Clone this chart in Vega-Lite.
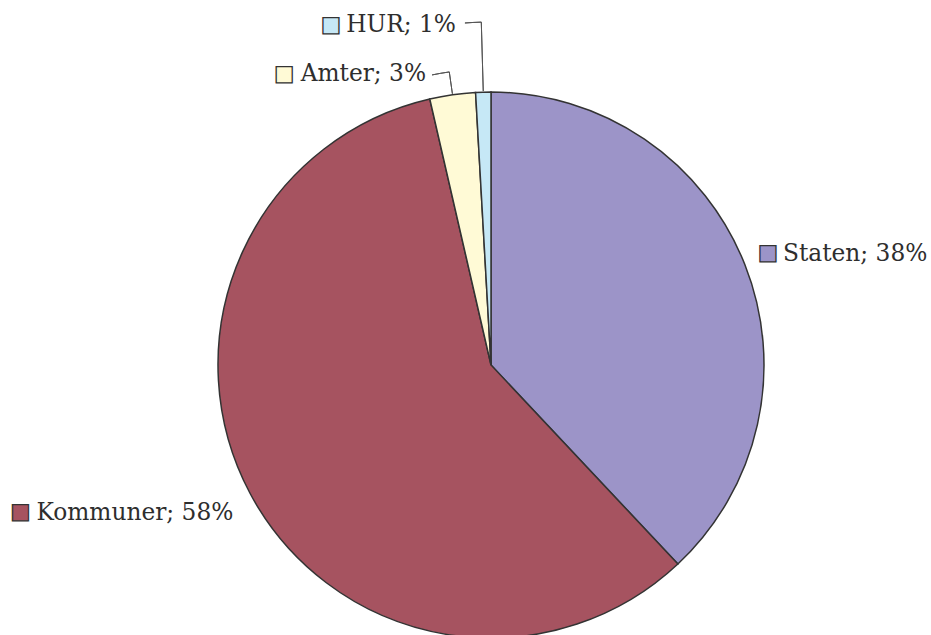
{
  "$schema": "https://vega.github.io/schema/vega-lite/v6.json",
  "width": 546,
  "height": 540,
  "autosize": {"type": "none"},
  "padding": {"left": 218, "top": 95, "right": 167, "bottom": 0},
  "background": "white",
  "config": {"view": {"stroke": null}},
  "data": {
    "values": [
      {"cat": "Staten", "value": 38.0, "i": 1},
      {"cat": "Kommuner", "value": 58.4, "i": 2},
      {"cat": "Amter", "value": 2.7, "i": 3},
      {"cat": "HUR", "value": 0.9, "i": 4}
    ]
  },
  "transform": [
    {"stack": "value", "groupby": [], "sort": [{"field": "i", "order": "ascending"}], "as": ["t0", "t1"]},
    {"calculate": "(datum.t0 + datum.t1) / 2", "as": "mid"},
    {"calculate": "datum.cat + '; ' + format(datum.value, '.0f') + '%'", "as": "label"}
  ],
  "layer": [
    {
      "mark": {"type": "arc", "radius": 273, "stroke": "#333333", "strokeWidth": 1.5},
      "encoding": {
        "theta": {"field": "t0", "type": "quantitative", "scale": {"domain": [0, 100]}},
        "theta2": {"field": "t1"},
        "color": {
          "field": "cat", "type": "nominal",
          "scale": {"domain": ["Staten", "Kommuner", "Amter", "HUR"], "range": ["#9c94c8", "#a65360", "#fffad6", "#c6e8f6"]},
          "legend": null
        }
      }
    },
    {
      "transform": [{"filter": "datum.cat === 'Amter'"}],
      "mark": {"type": "arc", "filled": false, "stroke": "#555555", "strokeWidth": 1, "radius": 296, "radius2": 274},
      "encoding": {
        "theta": {"field": "mid", "type": "quantitative", "scale": {"domain": [0, 100]}},
        "theta2": {"field": "mid"}
      }
    },
    {
      "transform": [{"filter": "datum.cat === 'Amter'"}, {"calculate": "datum.mid - 0.94", "as": "hs"}],
      "mark": {"type": "arc", "filled": false, "stroke": "#555555", "strokeWidth": 1, "radius": 296, "radius2": 296},
      "encoding": {
        "theta": {"field": "hs", "type": "quantitative", "scale": {"domain": [0, 100]}},
        "theta2": {"field": "mid"}
      }
    },
    {
      "transform": [{"filter": "datum.cat === 'HUR'"}],
      "mark": {"type": "arc", "filled": false, "stroke": "#555555", "strokeWidth": 1, "radius": 343, "radius2": 274},
      "encoding": {
        "theta": {"field": "mid", "type": "quantitative", "scale": {"domain": [0, 100]}},
        "theta2": {"field": "mid"}
      }
    },
    {
      "transform": [{"filter": "datum.cat === 'HUR'"}, {"calculate": "datum.mid - 0.76", "as": "hs"}],
      "mark": {"type": "arc", "filled": false, "stroke": "#555555", "strokeWidth": 1, "radius": 343, "radius2": 343},
      "encoding": {
        "theta": {"field": "hs", "type": "quantitative", "scale": {"domain": [0, 100]}},
        "theta2": {"field": "mid"}
      }
    },
    {
      "transform": [{"filter": "datum.cat === 'Staten'"}],
      "mark": {"type": "text", "align": "left", "baseline": "middle", "radius": 314, "dy": 5, "font": "DejaVu Serif", "fontSize": 23.3, "color": "#2e2e2e"},
      "encoding": {
        "theta": {"field": "mid", "type": "quantitative", "scale": {"domain": [0, 100]}},
        "text": {"field": "label"}
      }
    },
    {
      "transform": [{"filter": "datum.cat === 'Kommuner'"}],
      "mark": {"type": "text", "align": "right", "baseline": "middle", "radius": 292, "dy": 11, "font": "DejaVu Serif", "fontSize": 23.3, "color": "#2e2e2e"},
      "encoding": {
        "theta": {"field": "mid", "type": "quantitative", "scale": {"domain": [0, 100]}},
        "text": {"field": "label"}
      }
    },
    {
      "transform": [{"filter": "datum.cat === 'Amter'"}, {"calculate": "datum.mid - 0.94", "as": "hs"}],
      "mark": {"type": "text", "align": "right", "baseline": "middle", "radius": 296, "dx": -6, "dy": -1, "font": "DejaVu Serif", "fontSize": 23.3, "color": "#2e2e2e"},
      "encoding": {
        "theta": {"field": "hs", "type": "quantitative", "scale": {"domain": [0, 100]}},
        "text": {"field": "label"}
      }
    },
    {
      "transform": [{"filter": "datum.cat === 'HUR'"}, {"calculate": "datum.mid - 0.76", "as": "hs"}],
      "mark": {"type": "text", "align": "right", "baseline": "middle", "radius": 343, "dx": -9, "dy": 2, "font": "DejaVu Serif", "fontSize": 23.3, "color": "#2e2e2e"},
      "encoding": {
        "theta": {"field": "hs", "type": "quantitative", "scale": {"domain": [0, 100]}},
        "text": {"field": "label"}
      }
    },
    {
      "transform": [{"filter": "datum.cat === 'Staten'"}],
      "mark": {"type": "text", "align": "center", "baseline": "middle", "radius": 314, "dx": -15, "dy": 4, "font": "DejaVu Sans", "fontSize": 21, "stroke": "#333333", "strokeWidth": 1.3},
      "encoding": {
        "theta": {"field": "mid", "type": "quantitative", "scale": {"domain": [0, 100]}},
        "text": {"value": "■"},
        "color": {"field": "cat", "type": "nominal", "legend": null}
      }
    },
    {
      "transform": [{"filter": "datum.cat === 'Kommuner'"}],
      "mark": {"type": "text", "align": "center", "baseline": "middle", "radius": 292, "dx": -213, "dy": 10, "font": "DejaVu Sans", "fontSize": 21, "stroke": "#333333", "strokeWidth": 1.3},
      "encoding": {
        "theta": {"field": "mid", "type": "quantitative", "scale": {"domain": [0, 100]}},
        "text": {"value": "■"},
        "color": {"field": "cat", "type": "nominal", "legend": null}
      }
    },
    {
      "transform": [{"filter": "datum.cat === 'Amter'"}, {"calculate": "datum.mid - 0.94", "as": "hs"}],
      "mark": {"type": "text", "align": "center", "baseline": "middle", "radius": 296, "dx": -148, "dy": -1, "font": "DejaVu Sans", "fontSize": 21, "stroke": "#333333", "strokeWidth": 1.3},
      "encoding": {
        "theta": {"field": "hs", "type": "quantitative", "scale": {"domain": [0, 100]}},
        "text": {"value": "■"},
        "color": {"field": "cat", "type": "nominal", "legend": null}
      }
    },
    {
      "transform": [{"filter": "datum.cat === 'HUR'"}, {"calculate": "datum.mid - 0.76", "as": "hs"}],
      "mark": {"type": "text", "align": "center", "baseline": "middle", "radius": 343, "dx": -134, "dy": 2, "font": "DejaVu Sans", "fontSize": 21, "stroke": "#333333", "strokeWidth": 1.3},
      "encoding": {
        "theta": {"field": "hs", "type": "quantitative", "scale": {"domain": [0, 100]}},
        "text": {"value": "■"},
        "color": {"field": "cat", "type": "nominal", "legend": null}
      }
    }
  ]
}
